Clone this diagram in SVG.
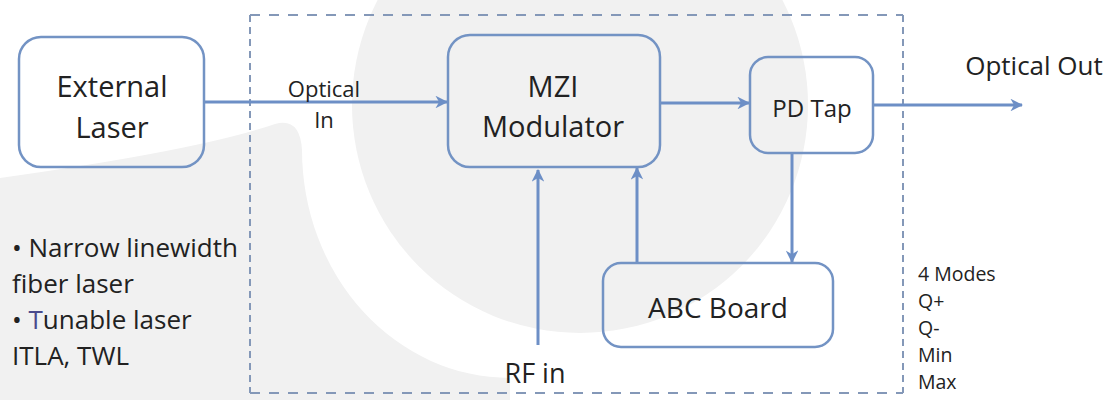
<svg xmlns="http://www.w3.org/2000/svg" width="1112" height="400" viewBox="0 0 1112 400">
<defs>
<style>
.bg{fill:#f1f1f1;stroke:none}
.box{fill:none;stroke:#7393c4;stroke-width:2.5}
.lbl{font-family:"Open Sans","Liberation Sans",sans-serif;fill:#222;text-anchor:middle}
.note{font-family:"Open Sans","Liberation Sans",sans-serif;fill:#222}
.conn{stroke:#6d8fc6;stroke-width:3;fill:none;marker-end:url(#arr)}
.dash{stroke:#8498b8;stroke-width:2;fill:none}
</style>
<marker id="arr" viewBox="0 0 12 12" refX="11" refY="6" markerWidth="4.2" markerHeight="4.2" orient="auto" markerUnits="strokeWidth">
<path d="M0,0 L12,6 L0,12 L3.5,6 Z" fill="#6d8fc6"/>
</marker>
</defs>
<g id="background">
<path class="bg" d="M0,178 Q200,150 275,124 Q300,117 302,150 A208,228 0 0 0 510,378 L510,400 L0,400 Z"/>
<circle class="bg" cx="580" cy="105" r="228"/>
</g>
<g id="boundary">
<line class="dash" x1="250" y1="15" x2="903" y2="15" stroke-dasharray="10 9"/>
<line class="dash" x1="250" y1="393" x2="903" y2="393" stroke-dasharray="10 9"/>
<line class="dash" x1="250" y1="15" x2="250" y2="393" stroke-dasharray="7 5"/>
<line class="dash" x1="903" y1="15" x2="903" y2="393" stroke-dasharray="7 5"/>
</g>
<g id="connectors">
<line class="conn" x1="205" y1="102" x2="447" y2="102"/>
<line class="conn" x1="661" y1="103" x2="749" y2="103"/>
<line class="conn" x1="874" y1="105" x2="1022" y2="105"/>
<line class="conn" x1="792" y1="154" x2="792" y2="262"/>
<line class="conn" x1="637" y1="263" x2="637" y2="168"/>
<line class="conn" x1="538" y1="345" x2="538" y2="170"/>
</g>
<g id="external-laser">
<rect class="box" x="19" y="37" width="185" height="130" rx="22"/>
<text class="lbl" x="112" y="97" font-size="29">External</text>
<text class="lbl" x="112" y="138" font-size="29">Laser</text>
</g>
<g id="mzi-modulator">
<rect class="box" x="448" y="35" width="212" height="132" rx="22"/>
<text class="lbl" x="553" y="97" font-size="29">MZI</text>
<text class="lbl" x="553" y="137" font-size="29">Modulator</text>
</g>
<g id="pd-tap">
<rect class="box" x="750" y="57" width="123" height="96" rx="18"/>
<text class="lbl" x="812" y="117" font-size="24">PD Tap</text>
</g>
<g id="abc-board">
<rect class="box" x="603" y="263" width="230" height="84" rx="18"/>
<text class="lbl" x="718" y="318" font-size="28">ABC Board</text>
</g>
<g id="labels">
<text class="lbl" x="324" y="97" font-size="22">Optical</text>
<text class="lbl" x="324" y="128" font-size="22">In</text>
<text class="lbl" x="1034" y="75" font-size="26">Optical Out</text>
<text class="lbl" x="535" y="383" font-size="27">RF in</text>
<text class="note" font-size="19.5">
<tspan x="918" y="281">4 Modes</tspan>
<tspan x="918" y="308">Q+</tspan>
<tspan x="918" y="335">Q-</tspan>
<tspan x="918" y="362">Min</tspan>
<tspan x="918" y="389">Max</tspan>
</text>
<text class="note" font-size="26">
<tspan x="12" y="257">• Narrow linewidth</tspan>
<tspan x="12" y="293">fiber laser</tspan>
<tspan x="12" y="329">• <tspan fill="#4a4a8c">T</tspan>unable laser</tspan>
<tspan x="12" y="365">ITLA, TWL</tspan>
</text>
</g>
</svg>
